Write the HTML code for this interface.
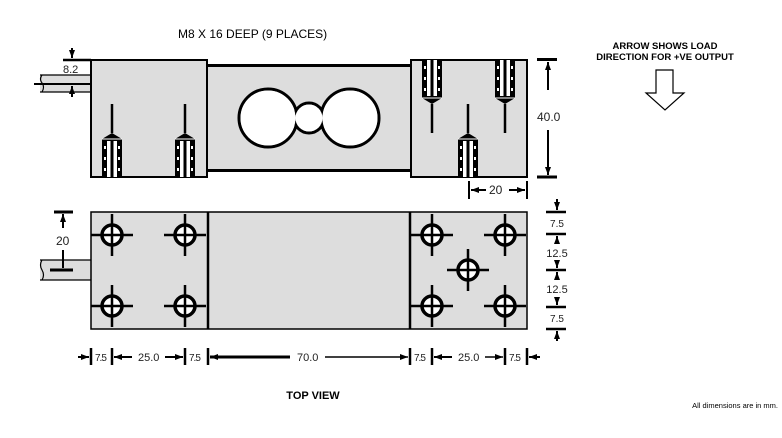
<!DOCTYPE html>
<html><head><style>body{margin:0;background:#fff}svg{display:block}</style></head><body>
<svg width="782" height="438" viewBox="0 0 782 438" xmlns="http://www.w3.org/2000/svg" font-family="Liberation Sans, Arial, sans-serif">
<defs>
<g id="bolt">
<line x1="0" y1="-73" x2="0" y2="-44" stroke="#000" stroke-width="2.5"/>
<path d="M-10 0 V-38 L0 -44 L10 -38 V0 Z" fill="#000"/>
<rect x="-5" y="-36" width="3.5" height="36" fill="#fff"/>
<rect x="1.5" y="-36" width="3.5" height="36" fill="#fff"/>
<line x1="-10" y1="-38" x2="10" y2="-38" stroke="#fff" stroke-width="1"/>
<rect x="-8" y="-31" width="2" height="3" fill="#fff"/><rect x="6" y="-31" width="2" height="3" fill="#fff"/>
<rect x="-8" y="-20" width="2" height="3" fill="#fff"/><rect x="6" y="-20" width="2" height="3" fill="#fff"/>
<rect x="-8" y="-9" width="2" height="3" fill="#fff"/><rect x="6" y="-9" width="2" height="3" fill="#fff"/>
</g>
<g id="hole">
<circle r="10" fill="#fff" stroke="#000" stroke-width="3.5"/>
<line x1="-21" y1="0" x2="21" y2="0" stroke="#000" stroke-width="2.5"/>
<line x1="0" y1="-21" x2="0" y2="21" stroke="#000" stroke-width="2.5"/>
</g>
<marker id="ar" markerWidth="8" markerHeight="6" refX="8" refY="3" orient="auto" markerUnits="userSpaceOnUse"><path d="M0 0 L8 3 L0 6 Z" fill="#000"/></marker>
</defs>

<text x="178" y="38" font-size="12">M8 X 16 DEEP (9 PLACES)</text>

<rect x="40" y="75" width="51" height="17" fill="#ddd"/>
<path d="M40 75 H91 M40 92 H91 M42 75 q-3 4 0 8 q3 4 0 9" stroke="#000" stroke-width="1.2" fill="none"/>
<line x1="34" y1="84" x2="91" y2="84" stroke="#000" stroke-width="2"/>
<line x1="63" y1="60" x2="91" y2="60" stroke="#000" stroke-width="2.5"/>
<line x1="72" y1="48" x2="72" y2="58" stroke="#000" stroke-width="2" marker-end="url(#ar)"/>
<line x1="72" y1="97" x2="72" y2="86" stroke="#000" stroke-width="2" marker-end="url(#ar)"/>
<text x="63" y="73" font-size="11" fill="#222">8.2</text>

<rect x="207" y="65" width="204" height="106" fill="#ddd"/>
<line x1="207" y1="65.5" x2="411" y2="65.5" stroke="#000" stroke-width="3"/>
<line x1="207" y1="170.5" x2="411" y2="170.5" stroke="#000" stroke-width="3"/>
<g stroke="#000" stroke-width="3" fill="#fff">
<circle cx="268" cy="118" r="29"/><circle cx="309" cy="118" r="15"/><circle cx="350" cy="118" r="29"/>
</g>
<g fill="#fff">
<circle cx="268" cy="118" r="27.5"/><circle cx="309" cy="118" r="13.5"/><circle cx="350" cy="118" r="27.5"/>
</g>
<rect x="91" y="60" width="116" height="117" fill="#ddd" stroke="#000" stroke-width="2"/>
<rect x="411" y="60" width="116" height="117" fill="#ddd" stroke="#000" stroke-width="2"/>
<use href="#bolt" x="112" y="177"/>
<use href="#bolt" x="185" y="177"/>
<use href="#bolt" x="468" y="177"/>
<use href="#bolt" transform="translate(432,60) scale(1,-1)"/>
<use href="#bolt" transform="translate(505,60) scale(1,-1)"/>

<line x1="537" y1="59.5" x2="557" y2="59.5" stroke="#000" stroke-width="3"/>
<line x1="537" y1="177" x2="557" y2="177" stroke="#000" stroke-width="3"/>
<line x1="548" y1="90" x2="548" y2="62" stroke="#000" stroke-width="2" marker-end="url(#ar)"/>
<line x1="548" y1="130" x2="548" y2="175" stroke="#000" stroke-width="2" marker-end="url(#ar)"/>
<rect x="535" y="108" width="30" height="16" fill="#fff"/>
<text x="537" y="121" font-size="12" fill="#222">40.0</text>
<line x1="469" y1="181" x2="469" y2="199" stroke="#000" stroke-width="2"/>
<line x1="527" y1="181" x2="527" y2="199" stroke="#000" stroke-width="2"/>
<line x1="486" y1="190" x2="471" y2="190" stroke="#000" stroke-width="2" marker-end="url(#ar)"/>
<line x1="509" y1="190" x2="525" y2="190" stroke="#000" stroke-width="2" marker-end="url(#ar)"/>
<text x="489" y="194" font-size="12" fill="#222">20</text>

<text x="665" y="49" font-size="9.5" font-weight="bold" text-anchor="middle">ARROW SHOWS LOAD</text>
<text x="665" y="60" font-size="9.5" font-weight="bold" text-anchor="middle">DIRECTION FOR +VE OUTPUT</text>
<path d="M656 70 H673 V93 H684 L665 110 L646 93 H656 Z" fill="#fff" stroke="#000" stroke-width="1.2"/>

<rect x="40" y="260" width="51" height="20" fill="#ddd"/>
<path d="M40 260 H91 M40 280 H91 M42 260 q-3 5 0 10 q3 5 0 10" stroke="#000" stroke-width="1.2" fill="none"/>
<line x1="50" y1="270" x2="73" y2="270" stroke="#000" stroke-width="3"/>
<line x1="54" y1="212" x2="73" y2="212" stroke="#000" stroke-width="3"/>
<line x1="63" y1="228" x2="63" y2="214" stroke="#000" stroke-width="2" marker-end="url(#ar)"/>
<line x1="63" y1="250" x2="63" y2="268" stroke="#000" stroke-width="2"/>
<text x="56" y="245" font-size="12" fill="#222">20</text>
<rect x="91" y="212" width="436" height="117" fill="#ddd" stroke="#000" stroke-width="1.5"/>
<line x1="208" y1="212" x2="208" y2="329" stroke="#000" stroke-width="2.5"/>
<line x1="410" y1="212" x2="410" y2="329" stroke="#000" stroke-width="2.5"/>
<use href="#hole" x="112" y="235"/><use href="#hole" x="185" y="235"/>
<use href="#hole" x="112" y="306"/><use href="#hole" x="185" y="306"/>
<use href="#hole" x="432" y="235"/><use href="#hole" x="505" y="235"/>
<use href="#hole" x="432" y="306"/><use href="#hole" x="505" y="306"/>
<use href="#hole" x="468" y="270"/>

<g stroke="#000" stroke-width="2.5">
<line x1="91" y1="348" x2="91" y2="365"/><line x1="112" y1="348" x2="112" y2="365"/>
<line x1="185" y1="348" x2="185" y2="365"/><line x1="208" y1="348" x2="208" y2="365"/>
<line x1="410" y1="348" x2="410" y2="365"/><line x1="432" y1="348" x2="432" y2="365"/>
<line x1="505" y1="348" x2="505" y2="365"/><line x1="527" y1="348" x2="527" y2="365"/>
</g>
<g stroke="#000" stroke-width="2">
<line x1="78" y1="357" x2="89" y2="357" marker-end="url(#ar)"/>
<line x1="132" y1="357" x2="114" y2="357" marker-end="url(#ar)"/>
<line x1="165" y1="357" x2="183" y2="357" marker-end="url(#ar)"/>
<line x1="290" y1="357" x2="210" y2="357" marker-end="url(#ar)" stroke-width="3"/>
<line x1="325" y1="357" x2="408" y2="357" marker-end="url(#ar)" stroke-width="1.5"/>
<line x1="452" y1="357" x2="434" y2="357" marker-end="url(#ar)"/>
<line x1="485" y1="357" x2="503" y2="357" marker-end="url(#ar)" stroke-width="1.5"/>
<line x1="540" y1="357" x2="529" y2="357" marker-end="url(#ar)"/>
</g>
<g font-size="11" fill="#222">
<text x="95" y="361" font-size="10" letter-spacing="-1">7.5</text>
<text x="138" y="361">25.0</text>
<text x="189" y="361" font-size="10" letter-spacing="-1">7.5</text>
<text x="297" y="361">70.0</text>
<text x="414" y="361" font-size="10" letter-spacing="-1">7.5</text>
<text x="458" y="361">25.0</text>
<text x="509" y="361" font-size="10" letter-spacing="-1">7.5</text>
</g>

<g stroke="#000" stroke-width="2.5">
<line x1="546" y1="212" x2="566" y2="212"/><line x1="546" y1="234" x2="566" y2="234"/>
<line x1="546" y1="270" x2="566" y2="270"/><line x1="546" y1="307" x2="566" y2="307"/>
<line x1="546" y1="329" x2="566" y2="329"/>
</g>
<g stroke="#000" stroke-width="2">
<line x1="557" y1="199" x2="557" y2="210" marker-end="url(#ar)"/>
<line x1="557" y1="243" x2="557" y2="236" marker-end="url(#ar)"/>
<line x1="557" y1="261" x2="557" y2="268" marker-end="url(#ar)"/>
<line x1="557" y1="279" x2="557" y2="272" marker-end="url(#ar)"/>
<line x1="557" y1="298" x2="557" y2="305" marker-end="url(#ar)"/>
<line x1="557" y1="341" x2="557" y2="331" marker-end="url(#ar)"/>
</g>
<g font-size="11" fill="#222" text-anchor="middle">
<text x="557" y="227" font-size="10">7.5</text>
<text x="557" y="257">12.5</text>
<text x="557" y="293">12.5</text>
<text x="557" y="322" font-size="10">7.5</text>
</g>

<text x="313" y="399" font-size="11" font-weight="bold" text-anchor="middle">TOP VIEW</text>
<text x="778" y="408" font-size="7.5" text-anchor="end">All dimensions are in mm.</text>
</svg>
</body></html>
